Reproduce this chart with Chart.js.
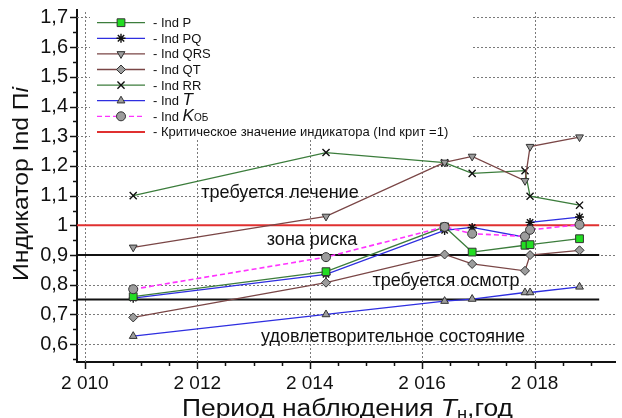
<!DOCTYPE html>
<html lang="ru">
<head>
<meta charset="utf-8">
<title>Индикатор Ind Пi</title>
<script src="https://cdn.jsdelivr.net/npm/chart.js@4.4.1/dist/chart.umd.min.js"></script>
<style>
    html, body { margin: 0; padding: 0; background: #fff; }
    #chart { display: block; }
</style>
</head>
<body>
<canvas id="chart" width="622" height="418"></canvas>
<script>
// --- 1. ДАННЫЕ ---
const observationYears = [2010.86, 2014.29, 2016.40, 2016.89, 2017.83, 2017.92, 2018.80];

const indP   = [0.760, 0.844, 0.995, 0.910, 0.933, 0.935, 0.955];
const indPQ  = [0.755, 0.835, 0.983, 0.993, 0.960, 1.010, 1.028];
const indQRS = [0.926, 1.030, 1.212, 1.232, 1.150, 1.265, 1.297];
const indQT  = [0.690, 0.807, 0.902, 0.870, 0.847, 0.900, 0.916];
const indRR  = [1.100, 1.245, 1.211, 1.175, 1.184, 1.098, 1.068];
const indT   = [0.627, 0.700, 0.745, 0.752, 0.774, 0.774, 0.793];
const indKob = [0.785, 0.893, 0.995, 0.972, 0.963, 0.985, 1.002];

const criticalValue = 1;            // Ind крит
const zoneBounds = [0.9, 0.75];     // границы зон
const refLineYears = [2009.86, 2019.15];

const xTickValues = [2010, 2012, 2014, 2016, 2018];
const xTickLabels = ['2 010', '2 012', '2 014', '2 016', '2 018'];
const yTickValues = [0.6, 0.7, 0.8, 0.9, 1.0, 1.1, 1.2, 1.3, 1.4, 1.5, 1.6, 1.7];
const yTickLabels = ['0,6', '0,7', '0,8', '0,9', '1', '1,1', '1,2', '1,3', '1,4', '1,5', '1,6', '1,7'];

const zoneLabels = ['требуется лечение', 'зона риска', 'требуется осмотр', 'удовлетворительное состояние'];

// --- 2. ЦВЕТА ---
const GREEN = '#3c7d3c';
const BLUE = '#2e2ee0';
const BROWN = '#7a4646';
const MAGENTA = '#ff33ff';
const RED = '#e03030';
const GRAY = '#9c9c9c';
const DARK = '#333';
const GRID = '#7a7a7a';

const toPoints = values => values.map((v, i) => ({ x: observationYears[i], y: v }));
const refLine = value => refLineYears.map(x => ({ x: x, y: value }));

function series(label, values, color, marker) {
    return Object.assign({
        label: label,
        data: toPoints(values),
        showLine: true,
        borderColor: color,
        borderWidth: 1.3,
        pointRadius: 4.5,
        pointBorderWidth: 1,
        pointBorderColor: DARK,
        pointBackgroundColor: GRAY
    }, marker);
}

const datasets = [
    series('Ind Kob', indKob, MAGENTA, { pointStyle: 'circle', borderDash: [5, 3], borderWidth: 1.6 }),
    series('Ind P', indP, GREEN, { pointStyle: 'rect', pointRadius: 5.5, pointBackgroundColor: '#22dd22' }),
    series('Ind PQ', indPQ, BLUE, { pointStyle: 'star', pointBorderColor: '#111', pointBorderWidth: 1.4 }),
    series('Ind QRS', indQRS, BROWN, { pointStyle: 'triangle', pointRotation: 180 }),
    series('Ind QT', indQT, BROWN, { pointStyle: 'rectRot' }),
    series('Ind RR', indRR, GREEN, { pointStyle: 'crossRot', pointRadius: 5, pointBorderColor: '#111', pointBorderWidth: 1.4 }),
    series('Ind T', indT, BLUE, { pointStyle: 'triangle' }),
    { label: 'crit', data: refLine(criticalValue), showLine: true, borderColor: RED, borderWidth: 2, pointRadius: 0 },
    { label: 'z1', data: refLine(zoneBounds[0]), showLine: true, borderColor: '#111', borderWidth: 2, pointRadius: 0 },
    { label: 'z2', data: refLine(zoneBounds[1]), showLine: true, borderColor: '#111', borderWidth: 2, pointRadius: 0 }
];

// --- 3. ЛЕГЕНДА, ПОДПИСИ, СЕТКА, ДЕЛЕНИЯ ---
const legendItems = [
    { runs: [['- Ind P']], line: GREEN, marker: { pointStyle: 'rect', radius: 5.5, fill: '#22dd22' } },
    { runs: [['- Ind PQ']], line: BLUE, marker: { pointStyle: 'star', radius: 4.5, stroke: '#111', width: 1.4 } },
    { runs: [['- Ind QRS']], line: BROWN, marker: { pointStyle: 'triangle', radius: 4.5, rotation: 180 } },
    { runs: [['- Ind QT']], line: BROWN, marker: { pointStyle: 'rectRot', radius: 4.5 } },
    { runs: [['- Ind RR']], line: GREEN, marker: { pointStyle: 'crossRot', radius: 5, stroke: '#111', width: 1.4 } },
    { runs: [['- Ind '], ['T', 'italic 17px Arial']], line: BLUE, marker: { pointStyle: 'triangle', radius: 4.5 } },
    { runs: [['- Ind '], ['K', 'italic 17px Arial'], ['ОБ', '10px Arial']], line: MAGENTA, dash: [5, 3], marker: { pointStyle: 'circle', radius: 4.5 } },
    { runs: [['- Критическое значение индикатора (Ind крит =1)']], line: RED, lineWidth: 2 }
];

function drawRuns(ctx, x, y, runs, baseFont) {
    let cx = x;
    runs.forEach(r => {
        ctx.font = r[1] || baseFont;
        ctx.fillText(r[0], cx, y + (r[2] || 0));
        cx += ctx.measureText(r[0]).width;
    });
    return cx - x;
}

function runsWidth(ctx, runs, baseFont) {
    let w = 0;
    runs.forEach(r => { ctx.font = r[1] || baseFont; w += ctx.measureText(r[0]).width; });
    return w;
}

const overlay = {
    id: 'overlay',
    beforeDatasetsDraw(chart) {
        const ctx = chart.ctx;
        const xs = chart.scales.x, ys = chart.scales.y;
        const area = chart.chartArea;
        ctx.save();
        // пунктирная сетка
        ctx.strokeStyle = GRID;
        ctx.lineWidth = 1;
        ctx.setLineDash([2, 2]);
        ctx.beginPath();
        xTickValues.forEach(v => {
            const x = Math.round(xs.getPixelForValue(v)) + 0.5;
            ctx.moveTo(x, area.bottom);
            ctx.lineTo(x, area.top);
        });
        yTickValues.forEach(v => {
            const y = Math.round(ys.getPixelForValue(v)) + 0.5;
            ctx.moveTo(area.left, y);
            ctx.lineTo(area.right, y);
        });
        ctx.stroke();
        ctx.setLineDash([]);

        // легенда
        ctx.fillStyle = '#fff';
        ctx.fillRect(90, 6, 382, 134);
        legendItems.forEach((item, i) => {
            const y = 22.7 + i * 15.6;
            ctx.strokeStyle = item.line;
            ctx.lineWidth = item.lineWidth || 1.3;
            ctx.setLineDash(item.dash || []);
            ctx.beginPath();
            ctx.moveTo(97, y);
            ctx.lineTo(145, y);
            ctx.stroke();
            ctx.setLineDash([]);
            if (item.marker) {
                const m = item.marker;
                ctx.fillStyle = m.fill || GRAY;
                ctx.strokeStyle = m.stroke || DARK;
                ctx.lineWidth = m.width || 1;
                Chart.helpers.drawPoint(ctx, { pointStyle: m.pointStyle, radius: m.radius, rotation: m.rotation || 0, borderWidth: m.width || 1 }, 121, y);
            }
            ctx.fillStyle = '#111';
            ctx.textBaseline = 'alphabetic';
            drawRuns(ctx, 153, y + 4.5, item.runs, '13px Arial');
        });
        ctx.restore();
    },
    afterDatasetsDraw(chart) {
        const ctx = chart.ctx;
        const spots = [[280, 193], [312, 240], [446, 281], [393, 337]];
        ctx.save();
        ctx.font = '18px Arial';
        ctx.fillStyle = '#111';
        ctx.textAlign = 'center';
        ctx.textBaseline = 'middle';
        zoneLabels.forEach((t, i) => ctx.fillText(t, spots[i][0], spots[i][1]));
        ctx.restore();
    },
    afterDraw(chart) {
        const ctx = chart.ctx;
        const xs = chart.scales.x, ys = chart.scales.y;
        const area = chart.chartArea;
        ctx.save();
        ctx.strokeStyle = '#111';
        ctx.lineWidth = 1.5;
        ctx.beginPath();
        // деления оси Y
        for (let v = 0.55; v <= 1.72; v += 0.05) {
            const y = Math.round(ys.getPixelForValue(v)) + 0.5;
            const major = Math.abs(v * 10 - Math.round(v * 10)) < 0.01;
            ctx.moveTo(area.left, y);
            ctx.lineTo(area.left - (major ? 7 : 4), y);
        }
        // деления оси X
        for (let t = 2010; t <= xs.max; t += 0.5) {
            const x = Math.round(xs.getPixelForValue(t)) + 0.5;
            const major = t % 2 === 0;
            ctx.moveTo(x, area.bottom);
            ctx.lineTo(x, area.bottom + (major ? 7 : 4));
        }
        ctx.stroke();

        // подписи осей
        ctx.fillStyle = '#111';
        ctx.textBaseline = 'alphabetic';
        const xRuns = [['Период наблюдения '], ['T', 'italic 23px Arial'], ['н', '16px Arial', 3], [',год']];
        const xw = runsWidth(ctx, xRuns, '23px Arial');
        ctx.save();
        ctx.translate(182, 416);
        ctx.scale(331 / xw, 1);
        drawRuns(ctx, 0, 0, xRuns, '23px Arial');
        ctx.restore();

        const yRuns = [['Индикатор Ind П'], ['i', 'italic 22px Arial']];
        const yw = runsWidth(ctx, yRuns, '22px Arial');
        ctx.translate(28, 281);
        ctx.rotate(-Math.PI / 2);
        ctx.scale(194 / yw, 1);
        drawRuns(ctx, 0, 0, yRuns, '22px Arial');
        ctx.restore();
    }
};

// --- 4. ГРАФИК ---
new Chart(document.getElementById('chart').getContext('2d'), {
    type: 'scatter',
    data: { datasets: datasets },
    options: {
        responsive: false,
        animation: false,
        devicePixelRatio: 1,
        layout: { padding: { top: 10, right: 0, left: 0, bottom: 0 } },
        plugins: { legend: { display: false }, tooltip: { enabled: false } },
        scales: {
            x: {
                type: 'linear',
                min: 2009.86,
                max: 2019.44,
                afterBuildTicks: s => { s.ticks = xTickValues.map(v => ({ value: v })); },
                afterFit: s => { s.height = 56; s.paddingLeft = 0; s.paddingRight = 0; },
                ticks: {
                    padding: 10,
                    color: '#111',
                    font: { family: 'Arial', size: 19 },
                    maxRotation: 0,
                    autoSkip: false,
                    callback: (v) => xTickLabels[xTickValues.indexOf(v)]
                },
                grid: { display: false, drawTicks: false },
                border: { color: '#111', width: 2 }
            },
            y: {
                min: 0.54,
                max: 1.725,
                afterBuildTicks: s => { s.ticks = yTickValues.map(v => ({ value: v })); },
                afterFit: s => { s.width = 77; s.paddingTop = 0; s.paddingBottom = 0; },
                ticks: {
                    padding: 9,
                    color: '#111',
                    font: { family: 'Arial', size: 20 },
                    autoSkip: false,
                    callback: (v) => {
                        const i = yTickValues.findIndex(t => Math.abs(t - v) < 1e-6);
                        return i >= 0 ? yTickLabels[i] : '';
                    }
                },
                grid: { display: false, drawTicks: false },
                border: { color: '#111', width: 2 }
            }
        }
    },
    plugins: [overlay]
});
</script>
</body>
</html>
